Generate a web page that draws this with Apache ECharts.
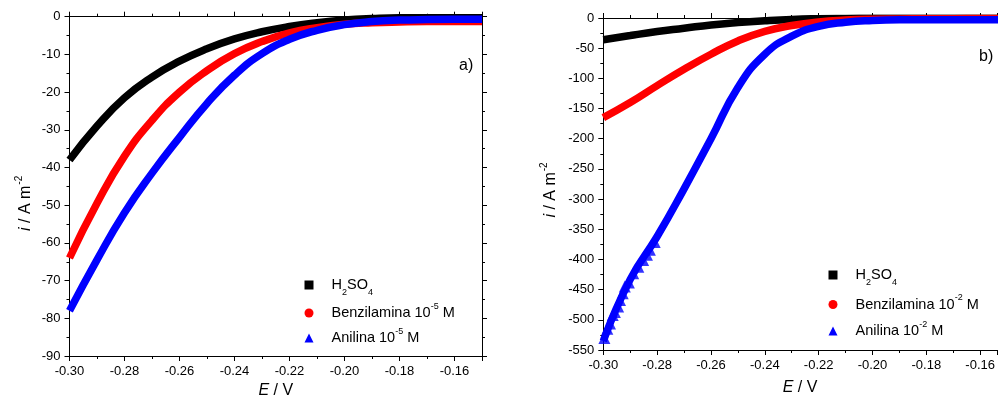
<!DOCTYPE html>
<html><head><meta charset="utf-8">
<script src="https://cdn.jsdelivr.net/npm/echarts@6/dist/echarts.min.js"></script>
<style>html,body{margin:0;padding:0;background:#fff}#c{width:998px;height:405px}</style>
</head><body><div id="c"></div>
<script>
// Potential E / V
const E = [-0.30,-0.29,-0.28,-0.27,-0.26,-0.25,-0.24,-0.23,-0.22,-0.21,-0.20,-0.19,-0.18,-0.17,-0.16,-0.15];
// panel a) current density i / A m-2
const aH2SO4 = [-38,-29,-21.5,-16,-11.8,-8.5,-5.9,-4.0,-2.6,-1.6,-0.9,-0.5,-0.3,-0.3,-0.3,-0.3];
const aBenz  = [-64,-49.5,-37,-27.5,-20,-14.3,-9.8,-6.6,-4.3,-2.9,-2.0,-1.6,-1.4,-1.3,-1.3,-1.3];
const aAnil  = [-78,-64.5,-52,-41.5,-32,-23,-15.5,-9.8,-6.0,-3.6,-2.1,-1.3,-0.9,-0.75,-0.7,-0.7];
// panel b)
const bH2SO4 = [-36,-29,-22.5,-17,-11.5,-7.5,-4.5,-2.3,-1.2,-0.7,-0.4,-0.3,-0.3,-0.3,-0.3,-0.3];
const bBenz  = [-165,-140,-112,-85,-60,-38,-22,-12.5,-6.5,-3.5,-2,-1.5,-1.2,-1.1,-1,-1];
const bAnil  = [-535,-433,-362,-283,-200,-115,-60,-30,-14,-7,-4,-3,-3,-3,-3,-3];
// scattered triangles visible at the low end of Anilina 10-2 M
const bAnilPtsE = [-0.2996,-0.2985,-0.2975,-0.2965,-0.2957,-0.2945,-0.2938,-0.2928,-0.2920,-0.2905,-0.2889,-0.2870,-0.2852,-0.2838,-0.2827,-0.2809];
const bAnilPtsI = [-530,-515,-506,-492,-487,-478,-467,-456,-445,-438,-423,-412,-401,-392,-384,-371];
// tick / legend texts
const legendA = ['H{sub|2}SO{sub|4}','Benzilamina 10{sup|-5} M','Anilina 10{sup|-5} M'];
const legendB = ['H{sub|2}SO{sub|4}','Benzilamina 10{sup|-2} M','Anilina 10{sup|-2} M'];
const yTitle = '{it|i} / A m{sup2|-2}';
const xTitle = '{it|E} / V';

const FONT = '"Liberation Sans", Arial, sans-serif';
const BLACK = '#000000', RED = '#ff0000', BLUE = '#0000ff';
const richText = {
  sub:{fontSize:9, fontFamily:FONT, color:'#000', verticalAlign:'bottom', lineHeight:10, padding:[0,0,-3,0]},
  sup:{fontSize:9, fontFamily:FONT, color:'#000', verticalAlign:'top', lineHeight:10, padding:[-2,0,0,0]},
  sup2:{fontSize:10, fontFamily:FONT, color:'#000', verticalAlign:'top', lineHeight:10, padding:[-3,0,0,1]},
  it:{fontStyle:'italic', fontSize:16, fontFamily:FONT, color:'#000'}
};
const nameMap = {
  'H2SO4 a':legendA[0],'Benz a':legendA[1],'Anil a':legendA[2],
  'H2SO4 b':legendB[0],'Benz b':legendB[1],'Anil b':legendB[2]
};
function pairs(xs, ys){ return xs.map((x,i)=>[x, ys[i]]); }
function fmtX(v){ const r = Math.round(v/0.02)*0.02; return Math.abs(r-v) < 1e-6 ? v.toFixed(2) : ''; }

const axisLine = {show:true, onZero:false, lineStyle:{color:'#000', width:1}};
const tick = {show:true, length:5, inside:false, lineStyle:{color:'#000', width:1}};
const minor = {show:true, splitNumber:2, length:3, lineStyle:{color:'#000', width:1}};

function xAxes(g, xmax, nameGap){
  return [
    {type:'value', gridIndex:g, position:'bottom', min:-0.30, max:xmax, interval:0.02,
     axisLine, axisTick:tick, minorTick:minor, splitLine:{show:false},
     axisLabel:{fontSize:13, color:'#000', fontFamily:FONT, margin:9, formatter:fmtX, showMaxLabel:false},
     name:xTitle, nameLocation:'middle', nameGap:nameGap,
     nameTextStyle:{fontSize:16, color:'#000', fontFamily:FONT, rich:richText}},
    {type:'value', gridIndex:g, position:'top', min:-0.30, max:xmax, interval:0.02,
     axisLine, axisTick:tick, minorTick:minor, splitLine:{show:false}, axisLabel:{show:false}}
  ];
}
function yAxes(g, min, interval, nameGap, pad, showRight){
  return [
    {type:'value', gridIndex:g, position:'left', min:min, max:0, interval:interval,
     axisLine, axisTick:tick, minorTick:minor, splitLine:{show:false},
     axisLabel:{fontSize:13, color:'#000', fontFamily:FONT, margin:9},
     name:yTitle, nameLocation:'middle', nameGap:nameGap, nameRotate:90,
     nameTextStyle:{fontSize:16, color:'#000', fontFamily:FONT, rich:richText, padding:pad}},
    {type:'value', gridIndex:g, position:'right', min:min, max:0, interval:interval, show:showRight,
     axisLine, axisTick:tick, minorTick:minor, splitLine:{show:false}, axisLabel:{show:false}}
  ];
}
function lineSeries(name, g, data, color){
  return {type:'line', name:name, xAxisIndex:g*2, yAxisIndex:g*2, data:data,
    showSymbol:false, symbol:'none', smooth:0.5, clip:true,
    lineStyle:{color:color, width:7.5, cap:'butt', join:'round'}, itemStyle:{color:color}, z:2};
}

const legendCommon = {
  orient:'vertical', itemWidth:9, itemHeight:9, padding:0,
  formatter:(n)=>nameMap[n],
  textStyle:{fontSize:14.5, color:'#000', fontFamily:FONT, lineHeight:18, rich:richText, padding:[0,0,0,13]},
  selectedMode:false
};

const option = {
  animation:false,
  backgroundColor:'#fff',
  grid:[
    {left:69.5, top:16.7, width:412.5, height:339.3},
    {left:603.3, top:18, width:394.7, height:332}
  ],
  xAxis:[...xAxes(0, -0.15, 25), ...xAxes(1, -0.1538, 30)],
  yAxis:[...yAxes(0, -90, 10, 36, [0,34,0,0], true), ...yAxes(1, -550, 50, 45, [0,12,0,0], false)],
  legend:[
    Object.assign({left:304.5, top:276, itemGap:5, data:[
      {name:'H2SO4 a', icon:'rect', itemStyle:{color:BLACK}},
      {name:'Benz a', icon:'circle', itemStyle:{color:RED}},
      {name:'Anil a', icon:'triangle', itemStyle:{color:BLUE}}]}, legendCommon),
    Object.assign({left:828.5, top:266, itemGap:6.5, data:[
      {name:'H2SO4 b', icon:'rect', itemStyle:{color:BLACK}},
      {name:'Benz b', icon:'circle', itemStyle:{color:RED}},
      {name:'Anil b', icon:'triangle', itemStyle:{color:BLUE}}]}, legendCommon)
  ],
  graphic:[
    {type:'text', left:459, top:58, style:{text:'a)', fill:'#000', font:'16px "Liberation Sans", Arial, sans-serif'}},
    {type:'text', left:979, top:49, style:{text:'b)', fill:'#000', font:'16px "Liberation Sans", Arial, sans-serif'}}
  ],
  series:[
    lineSeries('H2SO4 a', 0, pairs(E, aH2SO4), BLACK),
    lineSeries('Benz a', 0, pairs(E, aBenz), RED),
    lineSeries('Anil a', 0, pairs(E, aAnil), BLUE),
    lineSeries('H2SO4 b', 1, pairs(E, bH2SO4), BLACK),
    lineSeries('Benz b', 1, pairs(E, bBenz), RED),
    lineSeries('Anil b', 1, pairs(E, bAnil), BLUE),
    {type:'scatter', name:'Anil b', xAxisIndex:2, yAxisIndex:2, data:pairs(bAnilPtsE, bAnilPtsI),
     symbol:'triangle', symbolSize:12, itemStyle:{color:BLUE}, clip:true, z:3}
  ]
};
const chart = echarts.init(document.getElementById('c'), null, {renderer:'canvas'});
chart.setOption(option);
</script>
</body></html>
